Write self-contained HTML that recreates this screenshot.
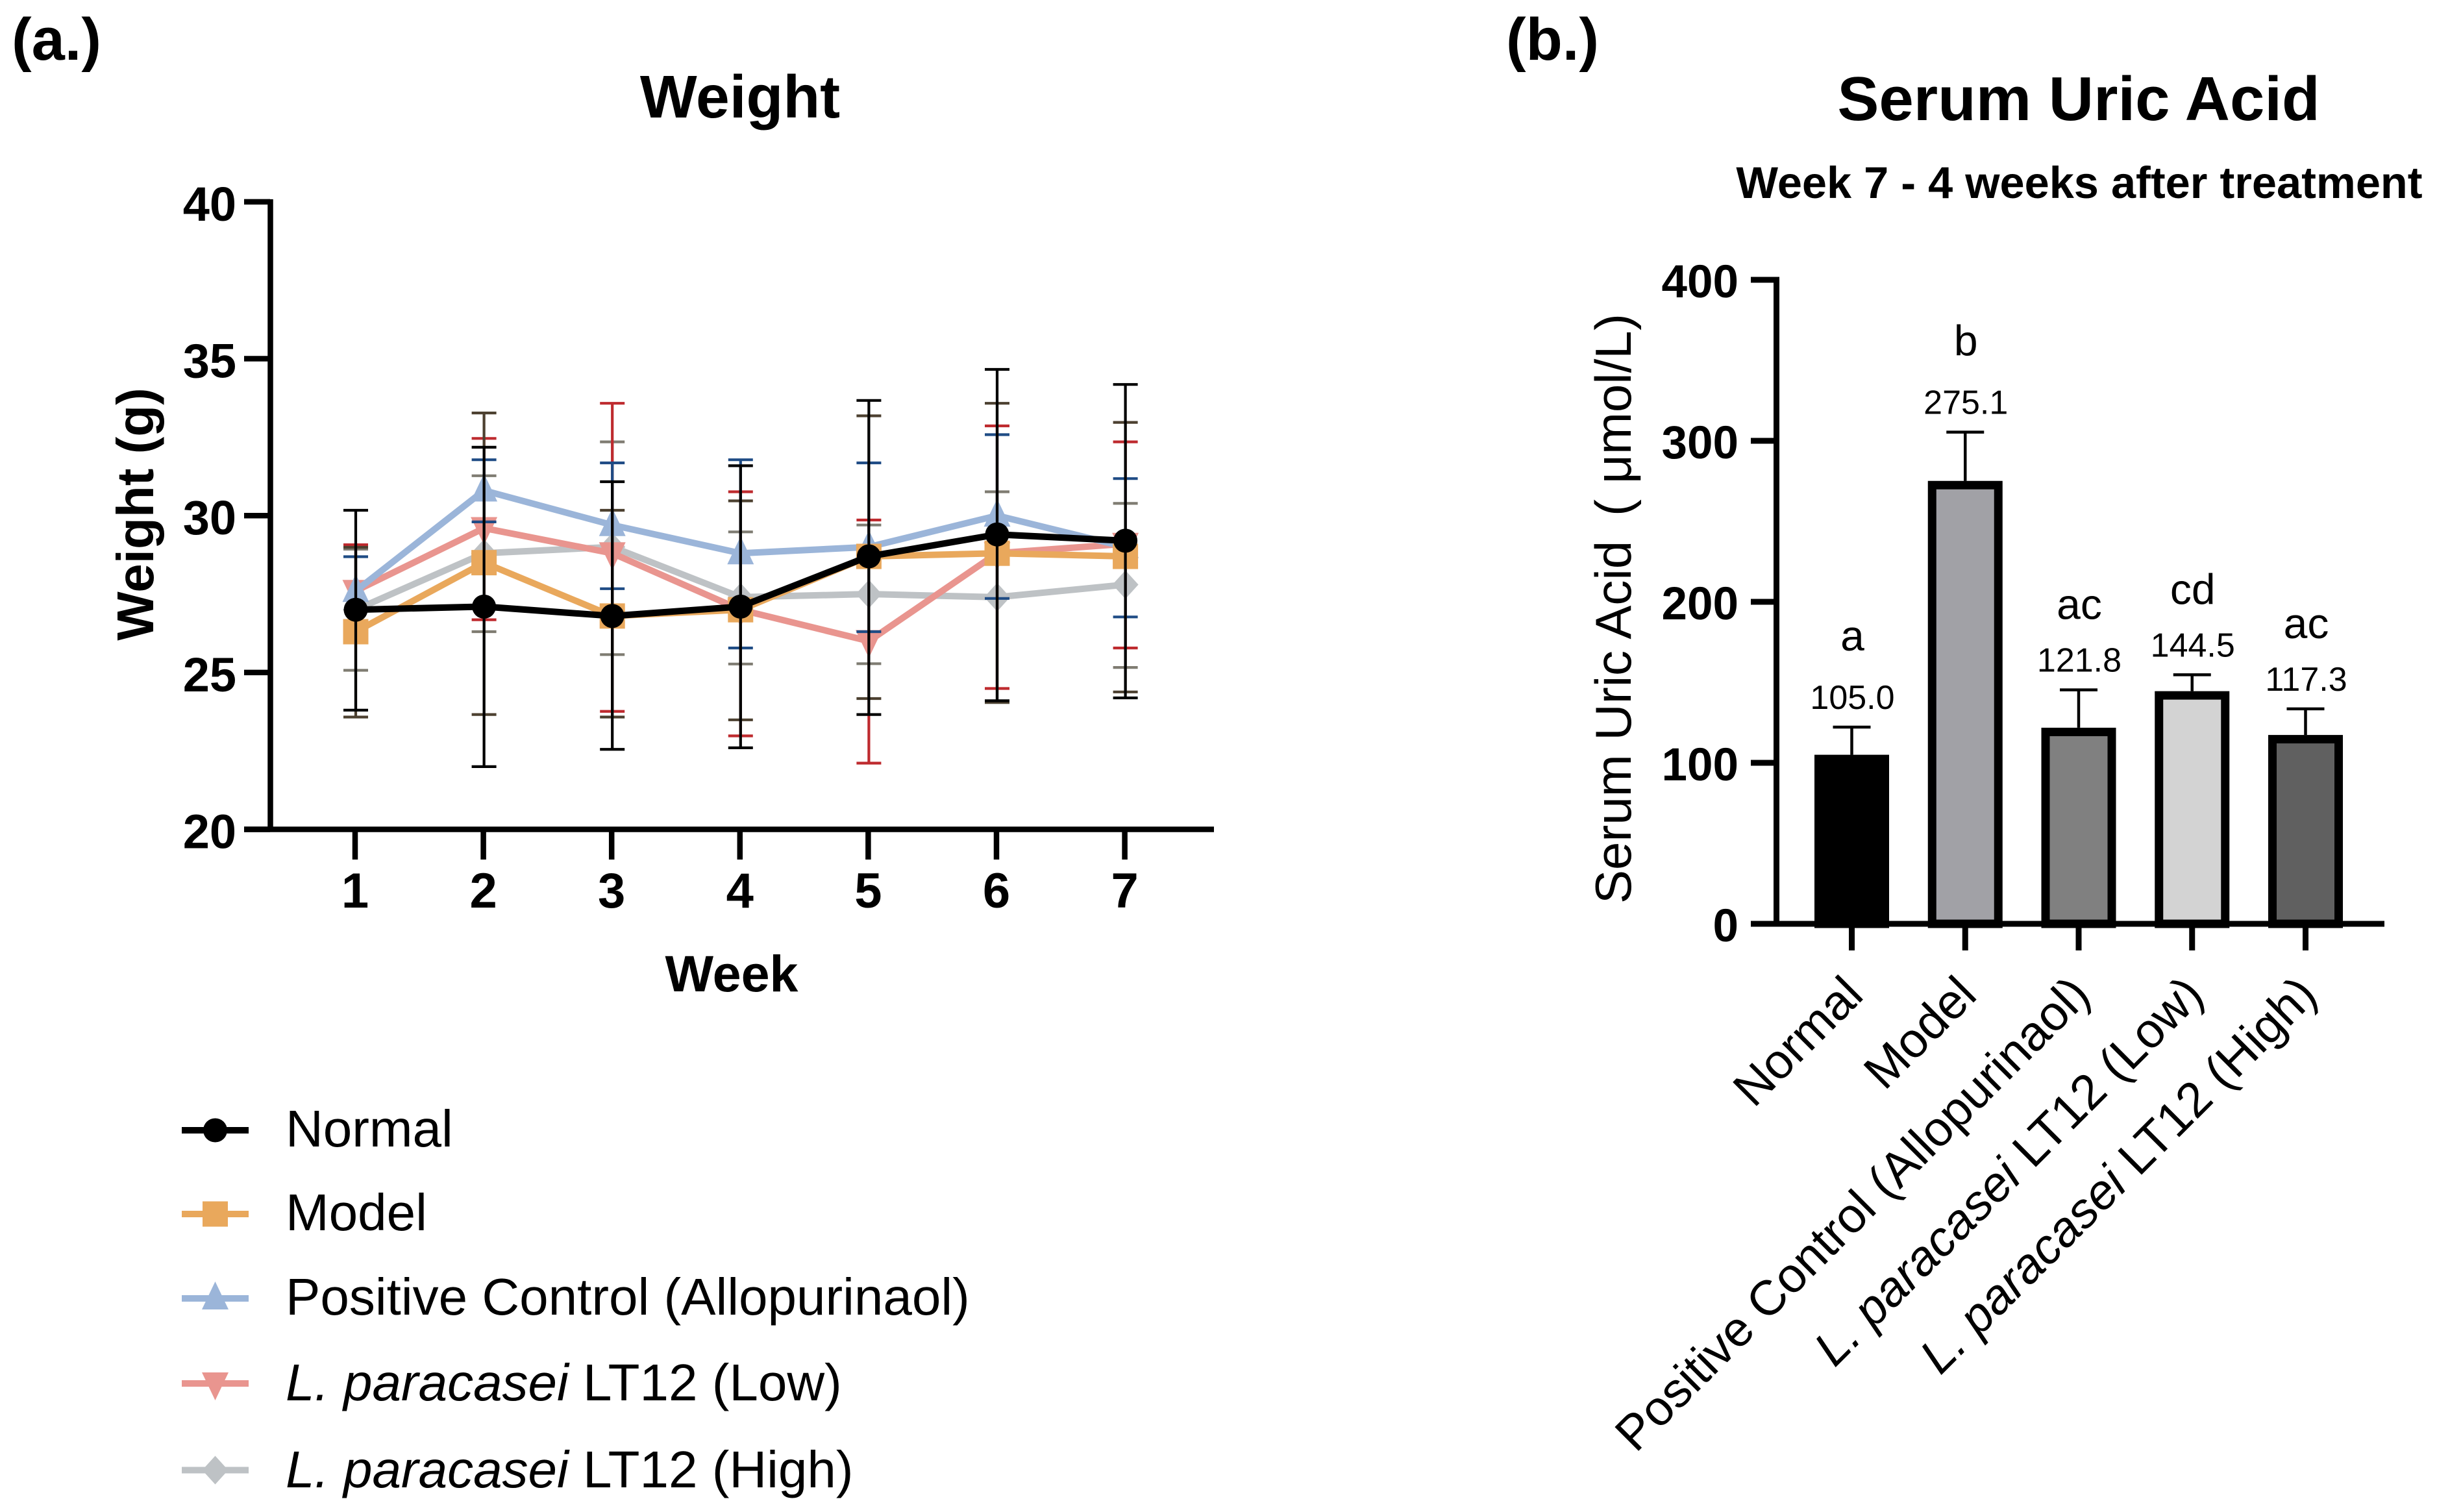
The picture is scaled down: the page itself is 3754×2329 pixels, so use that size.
<!DOCTYPE html>
<html lang="en">
<head>
<meta charset="utf-8">
<title>Weight and Serum Uric Acid</title>
<style>
html,body{margin:0;padding:0;background:#fff;}
svg{display:block;}
text{font-family:"Liberation Sans",Arial,sans-serif;fill:#000;}
.b{font-weight:bold;}
</style>
</head>
<body>
<svg id="fig" xmlns="http://www.w3.org/2000/svg" width="3754" height="2329" viewBox="0 0 3754 2329">
<rect x="0" y="0" width="3754" height="2329" fill="#fff"/>
<text class="b" x="18" y="92" font-size="92">(a.)</text>
<text class="b" x="2320" y="92" font-size="92">(b.)</text>
<text class="b" x="1140" y="181" font-size="93" text-anchor="middle">Weight</text>
<text class="b" x="3202" y="185" font-size="96" text-anchor="middle">Serum Uric Acid</text>
<text class="b" x="3203" y="305" font-size="68.5" text-anchor="middle">Week 7 - 4 weeks after treatment</text>
<text class="b" x="1127" y="1527" font-size="79" text-anchor="middle">Week</text>
<text class="b" transform="translate(236 792) rotate(-90)" font-size="80" text-anchor="middle">Weight (g)</text>
<text transform="translate(2512 1392) rotate(-90)" font-size="78"><tspan x="0">Serum Uric Acid</tspan><tspan x="597">(</tspan><tspan x="647">μmol/L</tspan><tspan x="883">)</tspan></text>
<g id="legend">
<text x="440" y="1766" font-size="80">Normal</text>
<text x="440" y="1895" font-size="80">Model</text>
<text x="440" y="2025" font-size="80">Positive Control (Allopurinaol)</text>
<text x="440" y="2157" font-size="80"><tspan font-style="italic">L. paracasei</tspan> LT12 (Low)</text>
<text x="440" y="2291" font-size="80"><tspan font-style="italic">L. paracasei</tspan> LT12 (High)</text>
</g>
<g id="weightChart"></g>
<g id="uricChart"></g>
</svg>
<script>
// ---- Weight chart data ----
const weeks = [1, 2, 3, 4, 5, 6, 7];
const weightTicks = [20, 25, 30, 35, 40];

const normalMean = [27.0, 27.1, 26.8, 27.1, 28.7, 29.4, 29.2];
const normalHigh = [30.17, 32.18, 31.08, 31.59, 33.67, 34.66, 34.18];
const normalLow = [23.8, 22.0, 22.55, 22.6, 23.66, 24.1, 24.19];

const modelMean = [26.3, 28.5, 26.8, 27.0, 28.7, 28.8, 28.7];
const modelHigh = [28.99, 33.27, 30.17, 30.47, 33.18, 33.58, 32.97];
const modelLow = [23.58, 23.66, 23.58, 23.49, 24.17, 24.05, 24.38];

const positiveMean = [27.6, 30.8, 29.7, 28.8, 29.0, 30.0, 29.0];
const positiveHigh = [28.69, 31.78, 31.68, 31.78, 31.68, 32.58, 31.18];
const positiveLow = [26.5, 29.8, 27.67, 25.78, 26.3, 27.36, 26.77];

const lowMean = [27.6, 29.6, 28.8, 27.0, 26.0, 28.8, 29.1];
const lowHigh = [29.07, 32.46, 33.58, 30.76, 29.86, 32.86, 32.35];
const lowLow = [26.13, 26.68, 23.76, 22.98, 22.11, 24.49, 25.78];

const highMean = [27.0, 28.8, 29.0, 27.4, 27.5, 27.4, 27.8];
const highHigh = [28.93, 31.27, 32.35, 29.48, 29.7, 30.76, 30.39];
const highLow = [25.07, 26.3, 25.57, 25.27, 25.28, 24.04, 25.16];

// ---- Serum uric acid chart data ----
const uricTicks = [0, 100, 200, 300, 400];
const uricValues = [105.0, 275.1, 121.8, 144.5, 117.3];
const uricErrorTops = [122.2, 305.4, 145.3, 154.7, 133.5];
const uricPrinted = ["105.0", "275.1", "121.8", "144.5", "117.3"];
const uricLetters = ["a", "b", "ac", "cd", "ac"];

const NS = "http://www.w3.org/2000/svg";
function mk(parent, tag, attrs) {
  const e = document.createElementNS(NS, tag);
  for (const k in attrs) e.setAttribute(k, attrs[k]);
  parent.appendChild(e);
  return e;
}

// Axis functions
function xW(w) { return 548 + (w - 1) * 197.6; }
function yW(v) { return 1277.5 - (v - 20) * 48.33; }
function xU(i) { return 2852.5 + i * 174.75; }
function yU(v) { return 1423 - v * 2.48; }

const wc = document.getElementById("weightChart");

function drawMarker(parent, shape, cx, cy, color) {
  let el;
  if (shape === "circle") {
    el = mk(parent, "circle", { cx: cx, cy: cy, r: 18.5, fill: color });
  } else if (shape === "square") {
    el = mk(parent, "rect", { x: cx - 19.5, y: cy - 19.5, width: 39, height: 39, fill: color });
  } else if (shape === "up") {
    el = mk(parent, "path", { d: "M" + cx + " " + (cy - 26) + "L" + (cx + 20.5) + " " + (cy + 17) + "L" + (cx - 20.5) + " " + (cy + 17) + "Z", fill: color });
  } else if (shape === "down") {
    el = mk(parent, "path", { d: "M" + cx + " " + (cy + 26) + "L" + (cx + 20.5) + " " + (cy - 17) + "L" + (cx - 20.5) + " " + (cy - 17) + "Z", fill: color });
  } else {
    el = mk(parent, "path", { d: "M" + cx + " " + (cy - 22) + "L" + (cx + 20) + " " + cy + "L" + cx + " " + (cy + 22) + "L" + (cx - 20) + " " + cy + "Z", fill: color });
  }
  return el;
}

function drawSeries(key, mean, high, low, color, errColor, shape) {
  const g = mk(wc, "g", {});
  
  
  weeks.forEach(function (w, i) {
    const x = xW(w);
    const eb = mk(g, "path", {
      d: "M" + x + " " + yW(high[i]) + "V" + yW(low[i]) +
         "M" + (x - 19) + " " + yW(high[i]) + "H" + (x + 19) +
         "M" + (x - 19) + " " + yW(low[i]) + "H" + (x + 19),
      stroke: errColor, "stroke-width": 4.2, fill: "none"
    });
    
    
  });
  const line = mk(g, "polyline", {
    points: weeks.map(function (w, i) { return xW(w) + "," + yW(mean[i]); }).join(" "),
    fill: "none", stroke: color, "stroke-width": 10, "stroke-linejoin": "miter"
  });
  
  
  weeks.forEach(function (w, i) {
    const m = drawMarker(g, shape, xW(w), yW(mean[i]), color);
    
    
  });
}

drawSeries("lt12-high", highMean, highHigh, highLow, "#BEC2C5", "#7F7C72", "diamond");
drawSeries("lt12-low", lowMean, lowHigh, lowLow, "#E9958F", "#BE2A2E", "down");
drawSeries("positive-control", positiveMean, positiveHigh, positiveLow, "#9BB5D9", "#1F4C85", "up");
drawSeries("model", modelMean, modelHigh, modelLow, "#E9A85C", "#4C4030", "square");

// Black series error stems sit on top of coloured markers
drawSeries("normal", normalMean, normalHigh, normalLow, "#000000", "#000000", "circle");

// Weight axes
const wAxis = mk(wc, "g", {});


const wYLine = mk(wAxis, "line", { x1: 416.5, x2: 416.5, y1: yW(40) - 4, y2: yW(20) + 4, stroke: "#000", "stroke-width": 8.5 });


const wXLine = mk(wAxis, "line", { x1: 376, x2: 1870, y1: yW(20), y2: yW(20), stroke: "#000", "stroke-width": 8.5 });


weightTicks.forEach(function (t) {
  const tk = mk(wAxis, "line", { x1: 376, x2: 416, y1: yW(t), y2: yW(t), stroke: "#000", "stroke-width": 8.5 });
  
  
  const tx = mk(wAxis, "text", { x: 364, y: yW(t) + 29, "font-size": 74, "font-weight": "bold", "text-anchor": "end" });
  tx.textContent = t;
  
  
});
weeks.forEach(function (w) {
  const tk = mk(wAxis, "line", { x1: xW(w) - 1, x2: xW(w) - 1, y1: yW(20), y2: 1324, stroke: "#000", "stroke-width": 8.5 });
  
  
  const tx = mk(wAxis, "text", { x: xW(w) - 1, y: 1398, "font-size": 76, "font-weight": "bold", "text-anchor": "middle" });
  tx.textContent = w;
  
  
});

// Legend handles
const lg = document.getElementById("legend");
const legendKeys = ["normal", "model", "positive-control", "lt12-low", "lt12-high"];
const legendColors = ["#000000", "#E9A85C", "#9BB5D9", "#E9958F", "#BEC2C5"];
const legendShapes = ["circle", "square", "up", "down", "diamond"];
const legendRows = [1741, 1870, 2000, 2131, 2264.5];
legendKeys.forEach(function (k, i) {
  const ln = mk(lg, "line", { x1: 280, x2: 383, y1: legendRows[i], y2: legendRows[i], stroke: legendColors[i], "stroke-width": 10 });
  
  
  const m = drawMarker(lg, legendShapes[i], 331.5, legendRows[i], legendColors[i]);
  
  
});

// Uric acid chart
const uc = document.getElementById("uricChart");
const barFills = ["#000000", "#A1A1A6", "#808080", "#D3D3D3", "#606060"];
const barKeys = ["normal", "model", "positive-control", "lt12-low", "lt12-high"];
uricValues.forEach(function (v, i) {
  const cx = xU(i);
  const err = mk(uc, "path", {
    d: "M" + cx + " " + yU(v) + "V" + yU(uricErrorTops[i]) + "M" + (cx - 29) + " " + yU(uricErrorTops[i]) + "H" + (cx + 29),
    stroke: "#000", "stroke-width": 4.5, fill: "none"
  });
  
  
  const bar = mk(uc, "rect", {
    x: cx - 51, y: yU(v) + 6.5, width: 102, height: yU(0) - yU(v) - 6.5,
    fill: barFills[i], stroke: "#000", "stroke-width": 13
  });
  
  
  const val = mk(uc, "text", { x: cx + 1, y: yU(uricErrorTops[i]) - 28, "font-size": 52, "text-anchor": "middle" });
  val.textContent = uricPrinted[i];
  
  
  const gap = uricLetters[i].length === 1 ? 118 : 109;
  const let_ = mk(uc, "text", { x: cx + 1, y: yU(uricErrorTops[i]) - gap, "font-size": 66, "text-anchor": "middle" });
  let_.textContent = uricLetters[i];
  
  
});
const uYLine = mk(uc, "line", { x1: 2736.5, x2: 2736.5, y1: yU(400) - 4.5, y2: yU(0) + 4.5, stroke: "#000", "stroke-width": 9 });


const uXLine = mk(uc, "line", { x1: 2697, x2: 3673, y1: yU(0), y2: yU(0), stroke: "#000", "stroke-width": 9 });


uricTicks.forEach(function (t) {
  const tk = mk(uc, "line", { x1: 2697, x2: 2736, y1: yU(t), y2: yU(t), stroke: "#000", "stroke-width": 9 });
  
  
  const tx = mk(uc, "text", { x: 2678, y: yU(t) + 27, "font-size": 71, "font-weight": "bold", "text-anchor": "end" });
  tx.textContent = t;
  
  
});
uricValues.forEach(function (v, i) {
  const tk = mk(uc, "line", { x1: xU(i), x2: xU(i), y1: yU(0), y2: 1464, stroke: "#000", "stroke-width": 9 });
  
  
});

// Rotated category labels
const catItalic = ["", "", "", "L. paracasei", "L. paracasei"];
const catPlain = ["Normal", "Model", "Positive Control (Allopurinaol)", " LT12 (Low)", " LT12 (High)"];
catPlain.forEach(function (label, i) {
  const t = mk(uc, "text", {
    transform: "translate(" + (xU(i) + 21) + " 1536) rotate(-45)",
    "font-size": 75.5, "text-anchor": "end"
  });
  
  
  if (catItalic[i]) {
    const it = mk(t, "tspan", { "font-style": "italic" });
    it.textContent = catItalic[i];
    const pl = mk(t, "tspan", {});
    pl.textContent = "\u00A0" + label.trim();
  } else {
    t.textContent = label;
  }
});
</script>
</body>
</html>
